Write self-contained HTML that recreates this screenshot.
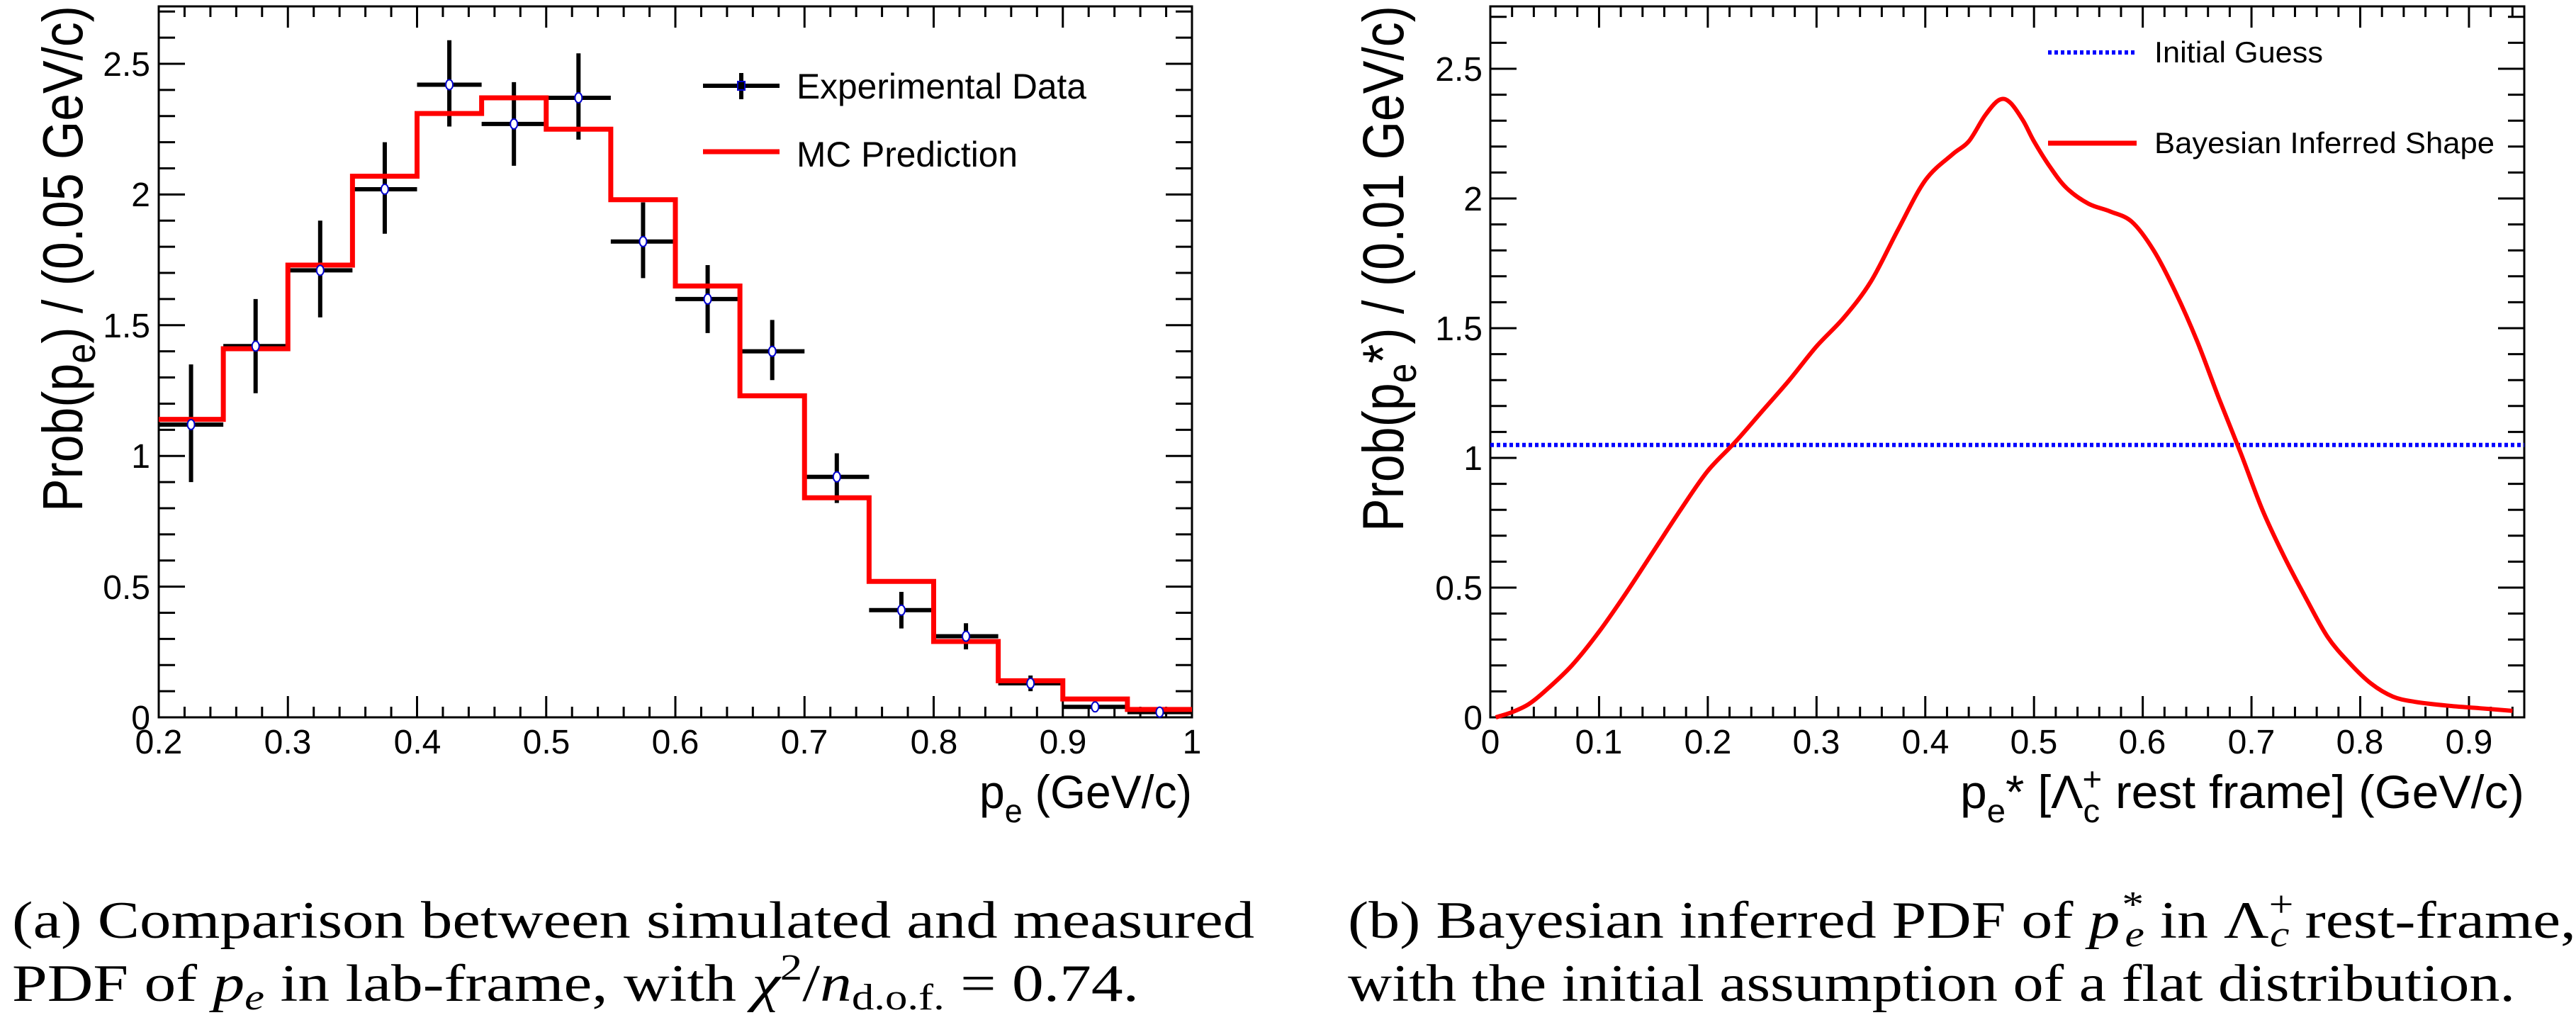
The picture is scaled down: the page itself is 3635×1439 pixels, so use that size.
<!DOCTYPE html>
<html><head><meta charset="utf-8"><style>
html,body{margin:0;padding:0;background:#fff;}
svg{display:block;}
text{font-family:"Liberation Sans",sans-serif;fill:#000;}
.cap{font-family:"Liberation Serif",serif;font-size:74px;}
</style></head><body>
<svg id="s" width="3635" height="1439" viewBox="0 0 3635 1439" xmlns="http://www.w3.org/2000/svg">
<g id="g"></g>
<g font-size="48" text-anchor="middle">
<text x="224" y="1063">0.2</text><text x="406" y="1063">0.3</text><text x="589" y="1063">0.4</text><text x="771" y="1063">0.5</text><text x="953" y="1063">0.6</text><text x="1135" y="1063">0.7</text><text x="1318" y="1063">0.8</text><text x="1500" y="1063">0.9</text><text x="1682" y="1063">1</text>
</g>
<g font-size="48" text-anchor="end">
<text x="212" y="1029">0</text><text x="212" y="845">0.5</text><text x="212" y="660">1</text><text x="212" y="476">1.5</text><text x="212" y="291">2</text><text x="212" y="107">2.5</text>
</g>
<text x="1682" y="1140" font-size="66" text-anchor="end" textLength="300" lengthAdjust="spacingAndGlyphs">p<tspan font-size="46" dy="20">e</tspan><tspan dy="-20"> (GeV/c)</tspan></text>
<text transform="translate(116,8) rotate(-90)" font-size="80" text-anchor="end" textLength="714" lengthAdjust="spacingAndGlyphs">Prob(p<tspan font-size="58" dy="18">e</tspan><tspan dy="-18">) / (0.05 GeV/c)</tspan></text>
<text x="1124" y="139" font-size="50" textLength="409" lengthAdjust="spacingAndGlyphs">Experimental Data</text>
<text x="1124" y="235" font-size="50" textLength="312" lengthAdjust="spacingAndGlyphs">MC Prediction</text>
<g font-size="48" text-anchor="middle">
<text x="2103" y="1063">0</text><text x="2256" y="1063">0.1</text><text x="2410" y="1063">0.2</text><text x="2563" y="1063">0.3</text><text x="2717" y="1063">0.4</text><text x="2870" y="1063">0.5</text><text x="3023" y="1063">0.6</text><text x="3177" y="1063">0.7</text><text x="3330" y="1063">0.8</text><text x="3484" y="1063">0.9</text>
</g>
<g font-size="48" text-anchor="end">
<text x="2092" y="1029">0</text><text x="2092" y="846">0.5</text><text x="2092" y="663">1</text><text x="2092" y="480">1.5</text><text x="2092" y="297">2</text><text x="2092" y="114">2.5</text>
</g>
<text x="3562" y="1140" font-size="66" text-anchor="end" textLength="796" lengthAdjust="spacingAndGlyphs">p<tspan font-size="46" dy="20">e</tspan><tspan dy="-20">* [Λ</tspan><tspan font-size="46" dy="20">c</tspan><tspan font-size="46" dx="-24" dy="-45">+</tspan><tspan dy="25"> rest frame] (GeV/c)</tspan></text>
<text transform="translate(1980,8) rotate(-90)" font-size="82" text-anchor="end" textLength="742" lengthAdjust="spacingAndGlyphs">Prob(p<tspan font-size="58" dy="18">e</tspan><tspan dy="-18">*) / (0.01 GeV/c)</tspan></text>
<text x="3040" y="88" font-size="42" textLength="238" lengthAdjust="spacingAndGlyphs">Initial Guess</text>
<text x="3040" y="216" font-size="42" textLength="480" lengthAdjust="spacingAndGlyphs">Bayesian Inferred Shape</text>
<text class="cap" x="17" y="1323" textLength="1753" lengthAdjust="spacingAndGlyphs">(a) Comparison between simulated and measured</text>
<text class="cap" x="17" y="1412" textLength="1590" lengthAdjust="spacingAndGlyphs">PDF of <tspan font-style="italic">p</tspan><tspan font-style="italic" font-size="52" dy="12">e</tspan><tspan dy="-12"> in lab-frame, with </tspan><tspan font-style="italic">χ</tspan><tspan font-size="52" dy="-30">2</tspan><tspan dy="30">/</tspan><tspan font-style="italic">n</tspan><tspan font-size="52" dy="12">d.o.f.</tspan><tspan dy="-12"> = 0.74.</tspan></text>
<text class="cap" x="1902" y="1323" textLength="1733" lengthAdjust="spacingAndGlyphs">(b) Bayesian inferred PDF of <tspan font-style="italic">p</tspan><tspan font-style="italic" font-size="52" dy="-30">*</tspan><tspan font-style="italic" font-size="52" dx="-20" dy="42">e</tspan><tspan dy="-12"> in Λ</tspan><tspan font-size="52" dy="-30">+</tspan><tspan font-style="italic" font-size="52" dx="-28" dy="42">c</tspan><tspan dy="-12">  rest-frame,</tspan></text>
<text class="cap" x="1902" y="1412" textLength="1647" lengthAdjust="spacingAndGlyphs">with the initial assumption of a flat distribution.</text>
</svg>
<script>
var g=document.getElementById('g'),NS='http://www.w3.org/2000/svg';
function el(t,a){var e=document.createElementNS(NS,t);for(var k in a)e.setAttribute(k,a[k]);g.appendChild(e);return e;}
function line(x1,y1,x2,y2,c,w,extra){var a={x1:x1,y1:y1,x2:x2,y2:y2,stroke:c,'stroke-width':w};if(extra)for(var k in extra)a[k]=extra[k];return el('line',a);}
var LX=function(v){return 224+(v-0.2)*1822.5;},LY=function(v){return 1012-v*368.8;};
function frame(x0,x1,y0,y1,X,Y,xs,xe,ymax){
 el('rect',{x:x0,y:y0,width:x1-x0,height:y1-y0,fill:'none',stroke:'#000','stroke-width':3});
 var i;
 for(i=Math.round(xs*50);i<=Math.round(xe*50);i++){var v=i/50,x=X(v);if(x<x0-1||x>x1+1)continue;var L=(i%5==0)?30:15;line(x,y1,x,y1-L,'#000',3);line(x,y0,x,y0+L,'#000',3);}
 for(i=0;i<=Math.floor(ymax*10+1e-6);i++){var y=Y(i/10);if(y<y0)continue;var L=(i%5==0)?37:23;line(x0,y,x0+L,y,'#000',3);line(x1,y,x1-L,y,'#000',3);}
}
frame(224,1682,9,1012,LX,LY,0.2,1.0,2.72);
var data=[[1.12,0.9,1.35],[1.42,1.24,1.6],[1.71,1.53,1.9],[2.02,1.85,2.2],[2.42,2.26,2.59],[2.27,2.11,2.43],[2.37,2.21,2.54],[1.82,1.68,1.97],[1.6,1.47,1.73],[1.4,1.29,1.52],[0.92,0.82,1.01],[0.41,0.34,0.48],[0.31,0.26,0.36],[0.13,0.1,0.16],[0.04,0.02,0.06],[0.02,0.005,0.035]];
var mc=[1.14,1.41,1.73,2.07,2.31,2.37,2.25,1.98,1.65,1.23,0.84,0.52,0.29,0.14,0.07,0.03];
data.forEach(function(d,i){var xl=LX(0.2+i*0.05),xr=LX(0.25+i*0.05),xc=(xl+xr)/2;
 line(xl,LY(d[0]),xr,LY(d[0]),'#000',6);line(xc,LY(d[1]),xc,LY(d[2]),'#000',6);});
var p='M'+LX(0.2)+','+LY(mc[0]);
mc.forEach(function(v,i){if(i>0)p+=' L'+LX(0.2+i*0.05)+','+LY(v);p+=' L'+LX(0.25+i*0.05)+','+LY(v);});
el('path',{d:p,fill:'none',stroke:'#f00','stroke-width':7});
data.forEach(function(d,i){var xc=LX(0.225+i*0.05);el('ellipse',{cx:xc,cy:LY(d[0]),rx:5,ry:7,fill:'#fff',stroke:'#00c','stroke-width':2});});
line(992,121,1100,121,'#000',6);line(1046,103,1046,140,'#000',6);
el('rect',{x:1041,y:115,width:10,height:12,fill:'#000',stroke:'#00c','stroke-width':2});
line(992,214,1100,214,'#f00',7);
var RX=function(v){return 2103+v*1534.4;},RY=function(v){return 1012-v*366;};
frame(2103,3562,9,1012,RX,RY,0,0.95,2.74);
line(2103,RY(1.05),3562,RY(1.05),'#00f',6,{'stroke-dasharray':'5,4'});
var pts=[[0.005,0],[0.02,0.02],[0.035,0.05],[0.05,0.1],[0.075,0.2],[0.1,0.33],[0.125,0.48],[0.15,0.64],[0.175,0.8],[0.2,0.95],[0.225,1.06],[0.25,1.18],[0.275,1.3],[0.3,1.43],[0.325,1.54],[0.35,1.68],[0.375,1.88],[0.4,2.07],[0.425,2.17],[0.44,2.22],[0.455,2.32],[0.468,2.38],[0.478,2.37],[0.49,2.3],[0.5,2.22],[0.515,2.12],[0.53,2.04],[0.55,1.98],[0.57,1.95],[0.59,1.91],[0.61,1.8],[0.63,1.64],[0.65,1.45],[0.67,1.23],[0.69,1.02],[0.71,0.8],[0.73,0.62],[0.75,0.46],[0.77,0.31],[0.79,0.21],[0.81,0.13],[0.83,0.08],[0.85,0.06],[0.88,0.045],[0.91,0.035],[0.94,0.025]];
var P=pts.map(function(q){return [RX(q[0]),RY(q[1])];});
var d='M'+P[0][0]+','+P[0][1];
for(var i=0;i<P.length-1;i++){var p0=P[Math.max(0,i-1)],p1=P[i],p2=P[i+1],p3=P[Math.min(P.length-1,i+2)];
 d+=' C'+(p1[0]+(p2[0]-p0[0])/6)+','+(p1[1]+(p2[1]-p0[1])/6)+' '+(p2[0]-(p3[0]-p1[0])/6)+','+(p2[1]-(p3[1]-p1[1])/6)+' '+p2[0]+','+p2[1];}
el('path',{d:d,fill:'none',stroke:'#f00','stroke-width':6,'stroke-linejoin':'round'});
line(2890,74,3015,74,'#00f',6,{'stroke-dasharray':'5,4'});
line(2890,202,3015,202,'#f00',7);
</script>
</body></html>
